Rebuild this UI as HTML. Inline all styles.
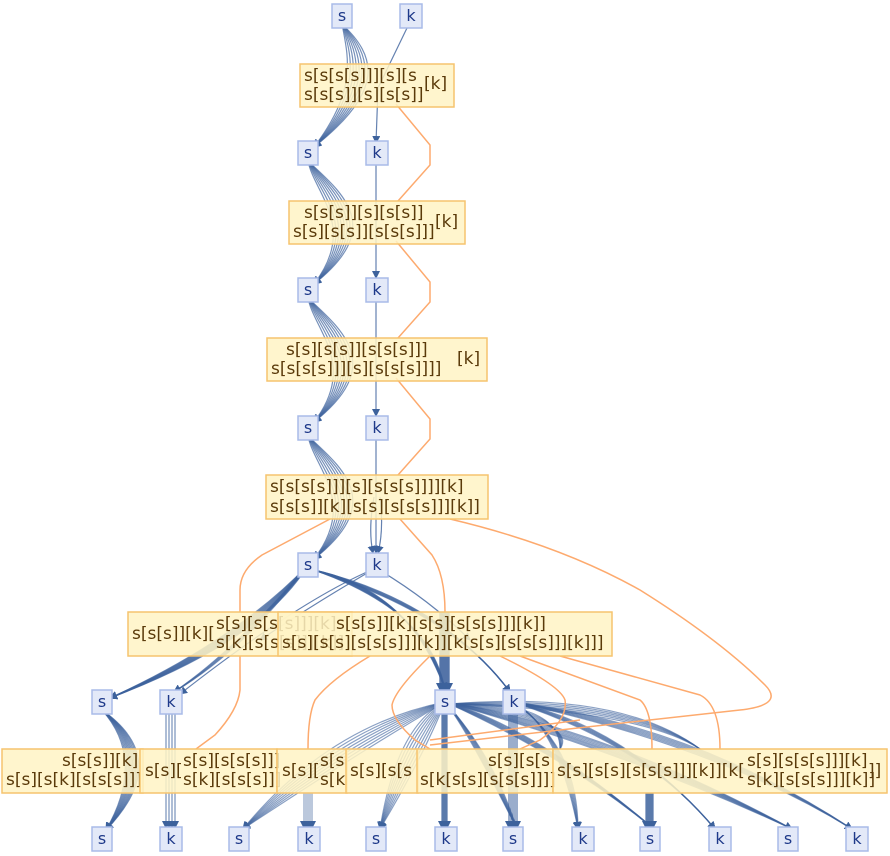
<!DOCTYPE html>
<html><head><meta charset="utf-8"><style>
html,body{margin:0;padding:0;background:#fff}
svg{display:block}
text{font-family:"DejaVu Sans","Liberation Sans",sans-serif;}
.n rect{fill:#e3e9f8;stroke:#a9bbe8;stroke-width:1.5}
.n text{fill:#1f3a8a;font-size:16px;text-anchor:middle}
.y rect{fill:#fff3c4;stroke:#f6c46e;stroke-width:1.5;fill-opacity:.85}
.y text{fill:#5a3a0a;font-size:17px}
</style></head><body>
<svg id="g" width="890" height="856" viewBox="0 0 890 856" xmlns="http://www.w3.org/2000/svg">
<defs><marker id="a" markerWidth="8" markerHeight="8" refX="7" refY="4" orient="auto" markerUnits="userSpaceOnUse"><path d="M0,0 L8,4 L0,8 z" fill="#3d629c"/></marker></defs>
<g id="edges" fill="none" stroke="#3d629c" stroke-width="1.2" stroke-opacity="0.8"></g>
<g id="orange" fill="none" stroke="#fdaa6e" stroke-width="1.5">
<path d="M396,104 L430,145 L430,165 L398,201"/>
<path d="M396,241 L430,282 L430,302 L398,338"/>
<path d="M396,378 L430,419 L430,439 L398,475"/>
<path d="M330,519 L262,555 Q240,570 240,590 L240,612"/>
<path d="M240,656 L240,690 Q238,710 215,735 L196,749"/>
<path d="M400,519 L432,555 Q445,575 445,612"/>
<path d="M450,519 Q560,545 640,590 Q720,640 765,685 Q785,705 740,710 L560,730 L430,745"/>
<path d="M370,656 Q330,680 315,700 Q308,715 308,749"/>
<path d="M430,656 Q395,690 392,705 Q392,720 415,740 L430,749"/>
<path d="M500,656 Q560,685 565,700 Q568,720 540,740 L520,749"/>
<path d="M520,656 L640,700 Q652,710 652,749"/>
<path d="M560,656 L700,695 Q720,705 720,749"/>
<path d="M430,740 L580,720"/>
</g>
<g class="y">
<rect x="300" y="64" width="154" height="43"/>
<text x="304" y="81">s[s[s[s]]][s][s</text><text x="304" y="100">s[s[s]][s][s[s]]</text><text x="424" y="89">[k]</text>
<rect x="289" y="201" width="176" height="43"/>
<text x="304" y="218">s[s[s]][s][s[s]]</text><text x="293" y="237">s[s][s[s]][s[s[s]]]</text><text x="435" y="227">[k]</text>
<rect x="267" y="338" width="220" height="43"/>
<text x="286" y="355">s[s][s[s]][s[s[s]]]</text><text x="271" y="374">s[s[s[s]]][s][s[s[s]]]]</text><text x="457" y="364">[k]</text>
<rect x="266" y="475" width="222" height="44"/>
<text x="270" y="492">s[s[s[s]]][s][s[s[s]]]][k]</text><text x="270" y="512">s[s[s]][k][s[s][s[s[s]]][k]]</text>
<rect x="128" y="612" width="224" height="44"/>
<text x="132" y="639">s[s[s]][k][</text><text x="216" y="629">s[s][s[s[s]]][k]</text><text x="216" y="648">s[k][s[s[s]]][k]]</text>
<rect x="278" y="612" width="334" height="44"/>
<text x="336" y="629">s[s[s]][k][s[s][s[s[s]]][k]]</text><text x="282" y="648">s[s][s[s][s[s[s]]][k]][k[s[s][s[s[s]]][k]]]</text>
<rect x="2" y="749" width="141" height="44"/>
<text x="62" y="766">s[s[s]][k]</text><text x="6" y="785">s[s][s[k][s[s[s]]]</text>
<rect x="140" y="749" width="137" height="44"/>
<text x="145" y="776">s[s][</text><text x="183" y="766">s[s][s[s[s]]]</text><text x="183" y="785">s[k][s[s[s]]]</text>
<rect x="277" y="749" width="70" height="44"/>
<text x="282" y="776">s[s][</text><text x="320" y="766">s[s</text><text x="320" y="785">s[k</text>
<rect x="346" y="749" width="72" height="44"/>
<text x="350" y="776">s[s][s[s</text>
<rect x="417" y="749" width="136" height="44"/>
<text x="488" y="766">s[s][s[s</text><text x="420" y="785">s[k[s[s][s[s[s]]]]</text>
<rect x="553" y="749" width="334" height="44"/>
<text x="557" y="776">s[s][s[s][s[s[s]]][k]][k[</text><text x="747" y="766">s[s][s[s[s]]][k]</text><text x="747" y="785">s[k][s[s[s]]][k]]</text><text x="868" y="776">]]</text>
</g>
<g class="n" id="nodes"></g>
</svg>
<script>
var E=document.getElementById('edges'),N=document.getElementById('nodes'),ns='http://www.w3.org/2000/svg';
function p(d,w,o,arrow){var e=document.createElementNS(ns,'path');e.setAttribute('d',d);if(w)e.setAttribute('stroke-width',w);if(o)e.setAttribute('stroke-opacity',o);if(arrow!==false)e.setAttribute('marker-end','url(#a)');E.appendChild(e);}
function bundle(x1,y1,mx,my,x2,y2,n,sp){for(var i=0;i<n;i++){var o=(i-(n-1)/2)*sp;p('M'+x1+','+y1+' Q'+(mx+o)+','+(my)+' '+x2+','+y2,null,0.7);}}
function node(x,y,t){var g=document.createElementNS(ns,'g');g.innerHTML='<rect x="'+(x-10)+'" y="'+(y-12)+'" width="'+(t=='k'?22:20)+'" height="24"/><text x="'+(x+(t=='k'?1:0))+'" y="'+(y+5)+'">'+t+'</text>';N.appendChild(g);}
var lv=[[16,85,153],[153,222,290],[290,360,428],[428,497,565]];
lv.forEach(function(l,i){var sx=i==0?342:308;
 for(var j=0;j<8;j++){var o=(j-3.5)*4;p('M'+sx+','+(l[0]+8)+' C'+(sx+20+o)+','+(l[0]+40)+' '+(372+o)+','+(l[1]+5)+' 314,'+(l[2]-6),null,0.7);}
 if(i==0)p('M407,28 L378,88 L376,143');else p('M376,'+(l[0]+12)+' L376,'+(l[2]-12));
});
p('M374,497 Q368,530 373,553');p('M380,497 Q384,530 378,553');
bundle(308,565,250,640,110,698,10,3);
bundle(308,565,240,650,174,692,4,3);
for(var j=0;j<8;j++){var o=j*3;p('M314,570 Q'+(410+o)+','+(590+o)+' 445,690',null,0.7);}
for(var j=0;j<6;j++){var o=j*3;p('M314,570 Q'+(440+o)+','+(600+o)+' 510,692',null,0.7);}
p('M376,568 Q300,600 180,694');p('M376,568 Q320,600 260,640');p('M376,568 Q430,600 470,640');
for(var j=0;j<10;j++){p('M'+(440+j)+',612 L'+(440+j)+',690',1.5,0.8);}
bundle(102,710,160,760,106,830,10,3);
for(var j=0;j<4;j++){p('M'+(166+j*3)+',714 L'+(166+j*3)+',828',null,0.7);}
var tg=[[239,839],[376,839],[513,839],[650,839],[788,839]];
tg.forEach(function(t,k){for(var j=0;j<8;j++){var o=(j-3.5)*4;p('M445,702 Q'+((445+t[0])/2+o)+','+(740+o)+' '+(t[0]+4)+','+(t[1]-10),null,0.6);}});
for(var j=0;j<6;j++){p('M'+(442+j)+',714 L'+(442+j)+',828',1.3,0.8);}
[[582,839],[719,839],[856,839]].forEach(function(t){for(var j=0;j<6;j++){var o=(j-2.5)*4;p('M513,702 Q'+((513+t[0])/2+20+o)+','+(735+o)+' '+(t[0]-4)+','+(t[1]-10),null,0.6);}});
for(var j=0;j<5;j++){p('M'+(509+j*2)+',714 L'+(509+j*2)+',828',1.3,0.8);}
for(var j=0;j<5;j++){p('M'+(304+j*2)+',793 L'+(304+j*2)+',828',1,0.7);}
for(var j=0;j<8;j++){p('M'+(646+j)+',793 L'+(646+j)+',828',1.3,0.8);}
for(var j=0;j<6;j++){var o=j*4;p('M450,704 Q'+(620+o)+','+(690+o)+' 700,749',null,0.6,false);p('M450,704 Q'+(560+o)+','+(700+o)+' 560,749',null,0.6,false);}
[[342,16,'s'],[410,16,'k'],[308,153,'s'],[376,153,'k'],[308,290,'s'],[376,290,'k'],[308,428,'s'],[376,428,'k'],[308,565,'s'],[376,565,'k'],
[102,702,'s'],[170,702,'k'],[445,702,'s'],[513,702,'k'],
[102,839,'s'],[170,839,'k'],[239,839,'s'],[308,839,'k'],[376,839,'s'],[445,839,'k'],[513,839,'s'],[582,839,'k'],[650,839,'s'],[719,839,'k'],[788,839,'s'],[856,839,'k']].forEach(function(a){node(a[0],a[1],a[2]);});
</script>
</body></html>
